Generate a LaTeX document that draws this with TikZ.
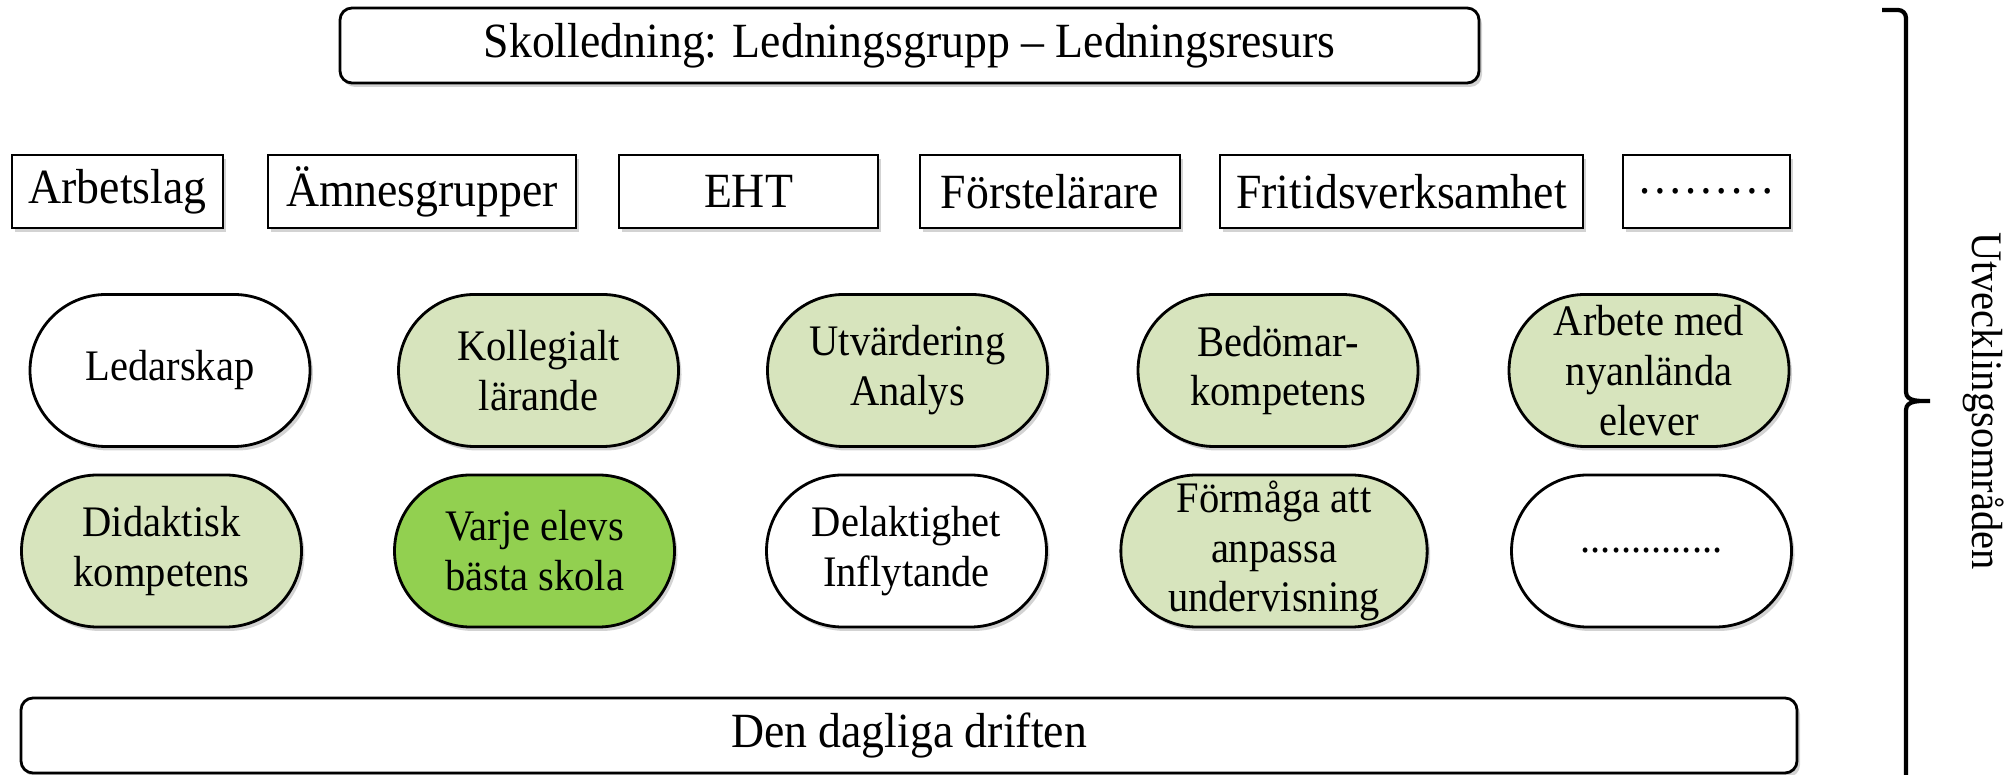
\documentclass[tikz,border=0pt]{standalone}
\usepackage{fontspec}
\setmainfont{Liberation Serif}[FakeStretch=0.93]
\usetikzlibrary{shapes.misc,shadows}
\definecolor{ljusgron}{HTML}{D7E4BD}
\definecolor{morkgron}{HTML}{92D050}

\begin{document}
\begin{tikzpicture}[
	every node/.style={inner sep=0pt, outer sep=0pt},
	skugga/.style={drop shadow={shadow xshift=0.03cm, shadow yshift=-0.04cm, opacity=0.35}},
	ledbox/.style={draw, line width=0.8pt, rounded corners=0.12cm, fill=white, skugga, minimum height=0.75cm, font=\fontsize{14}{16}\selectfont},
	gruppbox/.style={draw, line width=0.7pt, fill=white, skugga, minimum height=0.73cm, font=\fontsize{14}{16}\selectfont},
	omrade/.style={draw, rounded rectangle, line width=0.8pt, fill=white, skugga, minimum width=2.8cm, minimum height=1.52cm, align=center, font=\fontsize{12.4}{14.2}\selectfont},
	]
				\clip (0,0) rectangle (20.13,7.74);
				
				\node[ledbox, minimum width=11.39cm] (skolledning) at (9.095,7.285) {Skolledning: Ledningsgrupp – Ledningsresurs};
				
				\node[gruppbox, minimum width=2.11cm] (arbetslag) at (1.175,5.825) {Arbetslag};
				\node[gruppbox, minimum width=3.08cm] (amnen) at (4.22,5.825) {Ämnesgrupper};
				\node[gruppbox, minimum width=2.59cm] (eht) at (7.485,5.825) {EHT};
				\node[gruppbox, minimum width=2.60cm] (forstelarare) at (10.5,5.825) {Förstelärare};
				\node[gruppbox, minimum width=3.63cm] (fritids) at (14.015,5.825) {Fritidsverksamhet};
				\node[gruppbox, minimum width=1.67cm] (ovriga) at (17.065,5.825) {………};
				
				\node[omrade] (ledarskap) at (1.70,4.035) {Ledarskap};
				\node[omrade, fill=ljusgron] (kollegialt) at (5.385,4.035) {Kollegialt\\lärande};
				\node[omrade, fill=ljusgron] (utvardering) at (9.075,4.035) {Utvärdering\\Analys};
				\node[omrade, fill=ljusgron] (bedomar) at (12.78,4.035) {Bedömar-\\kompetens};
				\node[omrade, fill=ljusgron] (nyanlanda) at (16.49,4.035) {Arbete med\\nyanlända\\elever};
				
				\node[omrade, fill=ljusgron] (didaktisk) at (1.615,2.23) {Didaktisk\\kompetens};
				\node[omrade, fill=morkgron] (varje) at (5.345,2.23) {Varje elevs\\bästa skola};
				\node[omrade] (delaktighet) at (9.065,2.23) {Delaktighet\\Inflytande};
				\node[omrade, fill=ljusgron] (formaga) at (12.74,2.23) {Förmåga att\\anpassa\\undervisning};
				\node[omrade] (ovrigaomr) at (16.515,2.23) {..............};
				
				\node[ledbox, minimum width=17.76cm] (driften) at (9.09,0.385) {Den dagliga driften};
				
				\coordinate (btop) at (18.82,7.64);
				\coordinate (btip) at (19.30,3.73);
				\coordinate (bbot) at (19.06,-0.6);
				\draw[line width=1.2pt] (btop) -- (18.98,7.64) to[out=0,in=90] (19.06,7.56) -- (19.06,3.82) to[out=-90,in=180] (btip) to[out=180,in=90] (19.06,3.64) -- (bbot);
				\node[rotate=-90, font=\fontsize{12.4}{14}\selectfont] (utveckling) at (19.84,3.73) {Utvecklingsområden};
\end{tikzpicture}
\end{document}
